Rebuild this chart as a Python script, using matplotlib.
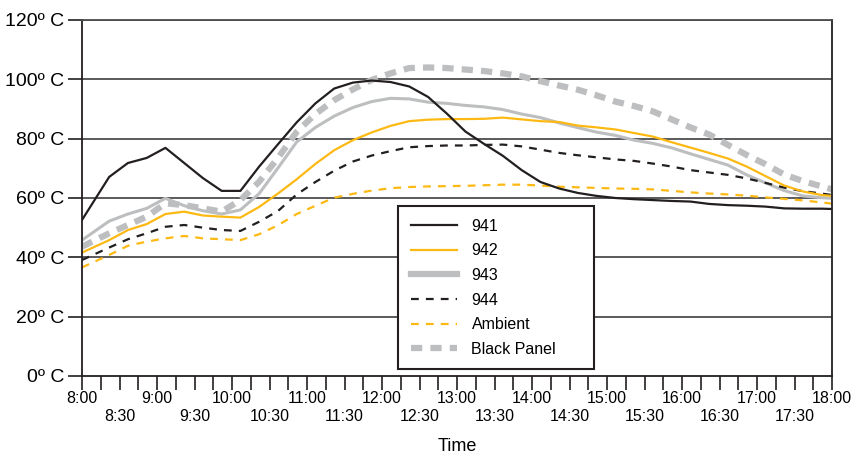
import matplotlib
matplotlib.use("Agg")
import matplotlib.pyplot as plt
from matplotlib.lines import Line2D
import numpy as np

# sample times (hours): 8:00, then readings every 15 min offset ~7 min, then 18:00
times = [8.0] + [8 + 0.25 * (k + 0.45) for k in range(1, 40)] + [18.0]

s941 = [52.6, 67.1, 71.8, 73.5, 76.9, 71.8, 66.7, 62.4, 62.4, 70.6,
        78.1, 85.5, 91.9, 96.9, 98.9, 99.6, 99.1, 97.6, 94.1, 88.5,
        82.4, 78.2, 74.2, 69.4, 65.4, 63.2, 61.7, 60.7, 60.0, 59.6,
        59.3, 59.0, 58.8, 58.0, 57.6, 57.4, 57.1, 56.5, 56.4, 56.4, 56.3]
s942 = [41.6, 45.8, 49.2, 51.2, 54.6, 55.4, 54.1, 53.7, 53.4, 57.0,
        61.5, 66.3, 71.5, 76.1, 79.5, 82.1, 84.3, 85.9, 86.4, 86.6,
        86.6, 86.7, 87.1, 86.5, 85.9, 85.6, 84.4, 83.8, 83.1, 81.9,
        80.7, 78.8, 77.0, 75.2, 73.3, 70.6, 67.4, 64.2, 62.2, 61.0, 60.7]
s943 = [45.8, 52.2, 54.6, 56.5, 59.9, 57.4, 55.7, 54.6, 56.0, 61.5,
        70.1, 78.9, 83.8, 87.6, 90.5, 92.5, 93.6, 93.4, 92.3, 91.9,
        91.2, 90.7, 89.8, 88.3, 87.1, 85.3, 83.7, 82.2, 81.1, 79.5,
        78.4, 76.9, 74.9, 73.0, 71.1, 67.8, 65.1, 62.5, 60.7, 60.1, 59.9]
s944 = [39.1, 43.3, 46.1, 48.1, 50.3, 50.9, 50.0, 49.2, 48.9, 52.0,
        55.6, 61.2, 65.4, 69.2, 72.3, 74.3, 75.8, 77.1, 77.5, 77.7,
        77.7, 77.9, 78.0, 77.4, 76.3, 75.2, 74.4, 73.7, 73.0, 72.5,
        71.6, 70.6, 69.4, 68.6, 67.8, 66.6, 65.1, 63.5, 62.3, 61.5, 61.0]
ambient = [36.6, 40.8, 43.9, 45.3, 46.4, 47.2, 46.4, 46.1, 45.8, 47.8,
           50.8, 54.6, 57.4, 60.1, 61.4, 62.5, 63.3, 63.7, 63.9, 64.0,
           64.1, 64.3, 64.5, 64.5, 64.2, 63.8, 63.6, 63.4, 63.2, 63.1,
           62.9, 62.4, 61.9, 61.5, 61.2, 60.8, 60.2, 59.7, 59.2, 58.5, 58.1]
black_panel = [43.6, 48.1, 50.9, 53.7, 58.2, 57.6, 56.5, 55.4, 59.3, 65.5,
               73.5, 82.3, 88.3, 93.0, 96.6, 99.8, 102.0, 103.8, 104.0, 103.8,
               103.3, 102.8, 102.0, 101.0, 99.4, 97.9, 96.5, 94.6, 92.5, 91.0,
               89.2, 86.5, 83.8, 81.4, 77.9, 74.5, 71.4, 67.9, 65.7, 63.9, 62.9]

y_ticks = [0, 20, 40, 60, 80, 100, 120]
y_labels = ['0º C', '20º C', '40º C', '60º C', '80º C', '100º C', '120º C']
hour_ticks = list(range(8, 19))
hour_labels = ['%d:00' % h for h in hour_ticks]

plt.rcParams['font.family'] = ['Liberation Sans', 'DejaVu Sans']

BLACK = '#231f20'
YELLOW = '#fdb913'
GRAY = '#bcbec0'

fig = plt.figure(figsize=(8.56, 4.54), dpi=100)
ax = fig.add_axes([82 / 856, 1 - 376 / 454, 750 / 856, 356 / 454])

ax.plot(times, black_panel, color=GRAY, lw=4.5, dashes=(1.8, 1.3))
ax.plot(times, s943, color=GRAY, lw=2.2)
ax.plot(times, ambient, color=YELLOW, lw=1.6, dashes=(3.5, 3.2))
ax.plot(times, s944, color=BLACK, lw=1.6, dashes=(3.5, 3.2))
ax.plot(times, s942, color=YELLOW, lw=1.6)
ax.plot(times, s941, color=BLACK, lw=1.6)

ax.set_xlim(8, 18)
ax.set_ylim(0, 120)

# horizontal grid
for v in y_ticks[1:]:
    ax.axhline(v, color='#4d4d4f', lw=1.3, zorder=0)

ax.set_yticks(y_ticks)
ax.set_yticklabels(y_labels, fontsize=14)

# hours on top row, half hours on second row, ticks every 15 min
ax.set_xticks(hour_ticks)
ax.set_xticklabels(hour_labels, fontsize=11.5)
quarter = np.arange(8, 18.01, 0.25)
ax.set_xticks(quarter, minor=True)
minor_labels = []
for t in quarter:
    h = int(t)
    m = int(round((t - h) * 60))
    minor_labels.append('%d:30' % h if m == 30 else '')
ax.set_xticklabels(minor_labels, minor=True, fontsize=11.5)
ax.tick_params(axis='x', which='both', length=10, width=1.2, color=BLACK)
ax.tick_params(axis='x', which='major', pad=1)
ax.tick_params(axis='x', which='minor', pad=13.5)
ax.tick_params(axis='y', length=10, width=1.2, color=BLACK, pad=3)

for side in ['left', 'bottom', 'right', 'top']:
    ax.spines[side].set_color(BLACK)
    ax.spines[side].set_linewidth(1.3)
ax.spines['top'].set_color('#4d4d4f')

ax.set_xlabel('Time', fontsize=13, labelpad=10)

handles = [
    Line2D([], [], color=BLACK, lw=1.6),
    Line2D([], [], color=YELLOW, lw=1.6),
    Line2D([], [], color=GRAY, lw=4.5),
    Line2D([], [], color=BLACK, lw=1.6, dashes=(3.5, 3.2)),
    Line2D([], [], color=YELLOW, lw=1.6, dashes=(3.5, 3.2)),
    Line2D([], [], color=GRAY, lw=4.5, dashes=(1.8, 1.3)),
]
leg = ax.legend(handles, ['941', '942', '943', '944', 'Ambient', 'Black Panel'],
                loc='upper left', mode='expand',
                bbox_to_anchor=(316 / 750, 13 / 356, 196 / 750, 157 / 356),
                borderaxespad=0, fontsize=11.5, frameon=True, fancybox=False,
                edgecolor=BLACK, handlelength=2.9, handletextpad=0.9,
                labelspacing=0.6, borderpad=0.8)
leg.get_frame().set_linewidth(1.5)
leg.get_frame().set_alpha(1)
leg.set_zorder(5)

fig.savefig('out.png', dpi=100)
